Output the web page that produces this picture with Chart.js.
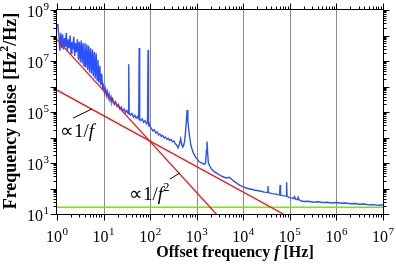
<!DOCTYPE html>
<html>
<head>
<meta charset="utf-8">
<script src="https://cdn.jsdelivr.net/npm/chart.js@4.4.1/dist/chart.umd.min.js"></script>
<style>
  html, body { margin: 0; padding: 0; background: #fff; }
  #wrap { width: 396px; height: 272px; }
</style>
</head>
<body>
<div id="wrap"><canvas id="noiseChart" width="396" height="272"></canvas></div>
<script>
// Measured frequency noise spectrum: offset frequency [Hz] / noise [Hz^2/Hz]
const noiseFreq = [
  1, 1.05, 1.10, 1.15, 1.20, 1.26, 1.32, 1.38, 1.45, 1.51, 1.58, 1.66, 1.74, 1.82, 1.91, 2.00, 2.09, 2.19, 2.29, 2.40,
  2.51, 2.63, 2.75, 2.88, 3.02, 3.16, 3.31, 3.47, 3.63, 3.80, 3.98, 4.17, 4.37, 4.57, 4.79, 5.01, 5.25, 5.50, 5.75, 6.03,
  6.31, 6.61, 6.92, 7.24, 7.59, 7.94, 8.32, 8.71, 9.12, 9.55, 10,
  10.5, 11, 11.5, 12, 12.6, 13.2, 13.8, 14.5, 15.1, 15.8, 17, 18.2, 19.5, 20.9, 22.4, 24, 25.7, 27.5, 29.5, 31.6,
  33.9, 34.7, 35.5, 38, 40.7, 43.7, 46.8, 50.1, 53.7, 56.9, 58.2, 59.6, 63.1, 67.6, 72.4, 77.6, 83.2, 88.1, 90.2, 92.3, 95.5, 100,
  107, 115, 123, 132, 141, 151, 162, 174, 186, 200, 214, 229, 245, 263, 282, 302, 324, 347, 372, 398,
  427, 452, 479, 501, 525, 550, 575, 603, 624, 646, 676, 708, 741, 776, 832, 891, 955, 1023, 1096, 1175,
  1259, 1349, 1445, 1549, 1622, 1660, 1718, 1778, 1905, 2042, 2188, 2344, 2512, 2692, 2884, 3162, 3467, 3802, 4169, 4571,
  5012, 5370, 5754, 6310, 6918, 7586, 8318, 9120, 10000,
  1.12e4, 1.26e4, 1.41e4, 1.58e4, 1.78e4, 2e4, 2.24e4, 2.51e4, 2.82e4, 3.16e4, 3.31e4, 3.39e4, 3.47e4, 3.8e4, 4.17e4, 4.57e4,
  5.01e4, 5.5e4, 6.03e4, 6.17e4, 6.31e4, 6.92e4, 7.59e4, 8.32e4, 8.51e4, 8.71e4, 9.33e4, 1e5, 1.1e5, 1.2e5, 1.26e5, 1.32e5,
  1.45e5, 1.51e5, 1.58e5, 1.78e5, 2e5, 2.51e5, 3.16e5, 3.98e5, 5.01e5, 6.31e5, 7.94e5, 1e6, 1.26e6, 1.58e6, 2e6, 2.51e6,
  3.16e6, 3.98e6, 5.01e6, 6.31e6, 7.94e6, 1e7
];
const noiseLevel = [
  2.82e8, 2.0e8, 1.0e8, 2.51e7, 1.26e8, 3.16e7, 1.12e8, 2.82e7, 7.94e7, 3.55e7, 1.26e8, 2.51e7, 7.08e7, 3.16e7, 1.0e8, 2.0e7, 5.62e7, 2.82e7, 8.91e7, 1.58e7,
  5.01e7, 2.24e7, 7.08e7, 1.12e7, 5.62e7, 8.91e6, 6.31e7, 7.94e6, 5.01e7, 6.31e6, 5.01e7, 5.62e6, 4.47e7, 4.47e6, 3.98e7, 3.55e6, 3.16e7, 3.16e6, 2.82e7, 2.51e6,
  2.24e7, 2.0e6, 2.0e7, 1.78e6, 1.12e7, 1.41e6, 6.31e6, 1.12e6, 3.16e6, 8.91e5, 1.12e6,
  5.62e5, 7.94e5, 4.47e5, 6.31e5, 3.55e5, 5.01e5, 2.82e5, 3.8e5, 2.4e5, 3.16e5, 2.0e5, 2.51e5, 1.66e5, 2.0e5, 1.32e5, 1.58e5, 1.12e5, 1.32e5, 9.55e4, 1.15e5,
  8.51e4, 7.41e6, 9.33e4, 7.59e4, 8.71e4, 6.31e4, 7.41e4, 5.62e4, 6.61e4, 5.5e4, 3.24e7, 5.25e4, 4.57e4, 5.37e4, 3.98e4, 4.57e4, 3.47e4, 3.98e4, 2.69e7, 3.16e4, 3.55e4, 2.63e4,
  2.24e4, 1.82e4, 2.0e4, 1.51e4, 1.66e4, 1.26e4, 1.38e4, 1.1e4, 1.2e4, 9.55e3, 1.05e4, 8.51e3, 9.33e3, 7.59e3, 8.32e3, 6.92e3, 7.24e3, 5.75e3, 5.01e3, 3.98e3,
  5.62e3, 8.91e3, 5.01e3, 4.17e3, 5.01e3, 7.08e3, 1.58e4, 5.01e4, 1.2e5, 4.47e4, 2.0e4, 1.0e4, 5.62e3, 3.98e3, 2.63e3, 2.09e3, 1.66e3, 1.41e3, 1.2e3, 1.1e3,
  1.0e3, 955, 891, 1.0e3, 3.16e3, 6.92e3, 2.51e3, 1.0e3, 759, 603, 525, 468, 427, 398, 363, 331, 302, 282, 263, 263,
  275, 251, 219, 191, 174, 151, 135, 123, 115,
  107, 100, 95.5, 91.2, 85.1, 83.2, 79.4, 75.9, 72.4, 70.8, 69.2, 126, 69.2, 66.1, 63.1, 61.7,
  60.3, 57.5, 56.2, 138, 55.0, 52.5, 51.3, 50.1, 174, 49.0, 45.7, 43.7, 42.7, 39.8, 47.9, 38.0,
  36.3, 45.7, 35.5, 32.4, 30.9, 31.6, 28.8, 30.2, 28.2, 28.8, 26.9, 28.2, 26.3, 26.9, 25.1, 25.7,
  24.0, 24.5, 22.9, 23.4, 21.9, 22.4
];

// Guide lines (end points) and measurement floor
const flickerFreq = [1, 1e5];
const flickerLevel = [7.2e5, 7.2];
const randomWalkFreq = [1, 3000];
const randomWalkLevel = [6.9e7, 7.7];
const floorFreq = [1, 1e7];
const floorLevel = [18.5, 18.5];

// Tick labels (decade exponents)
const xTickExp = ['0', '1', '2', '3', '4', '5', '6', '7'];
const yTickExp = ['1', '3', '5', '7', '9'];
const gridFreq = [10, 100, 1000, 1e4, 1e5, 1e6];

// annotation placement in data space
const notes = {
  flicker: { f: 1.16, v: 1.05e4, from: [2.2, 5.75e4], to: [5.64, 1.32e5], sup: '' },
  randomWalk: { f: 35, v: 35.5, from: [266, 234], to: [436, 407], sup: '2' }
};

const serif = "'Liberation Serif', 'Times New Roman', serif";
const pairs = (xs, ys) => xs.map((x, i) => ({ x: x, y: ys[i] }));

function powLabel(ctx, exp, x, y, align) {
  ctx.font = '16px ' + serif;
  const wb = ctx.measureText('10').width;
  ctx.font = '11px ' + serif;
  const ws = ctx.measureText(exp).width;
  const total = wb + ws + 0.5;
  const x0 = align === 'center' ? x - total / 2 : x - total;
  ctx.font = '16px ' + serif;
  ctx.fillText('10', x0, y);
  ctx.font = '11px ' + serif;
  ctx.fillText(exp, x0 + wb + 0.5, y - 7);
}

// draws a run of text pieces [text, font, rise] starting at x
function textRun(ctx, parts, x, y, center) {
  let w = 0;
  parts.forEach(p => { ctx.font = p[1]; w += ctx.measureText(p[0]).width; });
  let cx = center ? x - w / 2 : x;
  parts.forEach(p => {
    ctx.font = p[1];
    ctx.fillText(p[0], cx, y - (p[2] || 0));
    cx += ctx.measureText(p[0]).width;
  });
}

const frame = {
  id: 'frame',
  beforeDatasetsDraw(chart) {
    const { ctx, chartArea: a, scales: { x } } = chart;
    ctx.save();
    ctx.strokeStyle = '#8c8c8c';
    ctx.lineWidth = 1;
    gridFreq.forEach(f => {
      const px = Math.round(x.getPixelForValue(f)) + 0.5;
      ctx.beginPath(); ctx.moveTo(px, a.top); ctx.lineTo(px, a.bottom); ctx.stroke();
    });
    ctx.restore();
  },
  afterDatasetsDraw(chart) {
    const { ctx, chartArea: a, scales: { x, y } } = chart;
    ctx.save();
    ctx.strokeStyle = '#000';
    ctx.fillStyle = '#000';
    ctx.lineWidth = 1;
    const L = a.left - 0.5, R = a.right + 0.5, T = a.top - 0.5, B = a.bottom + 0.5;
    ctx.strokeRect(L, T, R - L, B - T);

    // log ticks, outward on all four sides
    ctx.beginPath();
    for (let e = 0; e <= 7; e++) {
      for (let k = 1; k <= (e < 7 ? 9 : 1); k++) {
        const px = Math.round(x.getPixelForValue(k * 10 ** e)) + 0.5;
        const len = k === 1 ? 6 : 3;
        ctx.moveTo(px, B); ctx.lineTo(px, B + len);
        ctx.moveTo(px, T); ctx.lineTo(px, T - len);
      }
    }
    for (let e = 1; e <= 9; e++) {
      for (let k = 1; k <= (e < 9 ? 9 : 1); k++) {
        const py = Math.round(y.getPixelForValue(k * 10 ** e)) + 0.5;
        const len = k === 1 ? 6 : 3;
        ctx.moveTo(L, py); ctx.lineTo(L - len, py);
        ctx.moveTo(R, py); ctx.lineTo(R + len, py);
      }
    }
    ctx.stroke();

    ctx.textAlign = 'left';
    ctx.textBaseline = 'alphabetic';
    xTickExp.forEach(s => powLabel(ctx, s, x.getPixelForValue(10 ** Number(s)), a.bottom + 28, 'center'));
    yTickExp.forEach(s => powLabel(ctx, s, a.left - 8, y.getPixelForValue(10 ** Number(s)) + 7, 'right'));

    // axis titles
    const bold = 'bold 16px ' + serif;
    textRun(ctx, [['Offset frequency ', bold], ['f', 'italic bold 16px ' + serif], [' [Hz]', bold]], 235, a.bottom + 43, true);
    ctx.save();
    ctx.translate(16, 111);
    ctx.rotate(-Math.PI / 2);
    const boldY = 'bold 18px ' + serif;
    textRun(ctx, [['Frequency noise [Hz', boldY], ['2', 'bold 12px ' + serif, 8], ['/Hz]', boldY]], 0, 0, true);
    ctx.restore();

    // slope annotations with leader lines
    Object.values(notes).forEach(n => {
      ctx.beginPath();
      ctx.moveTo(x.getPixelForValue(n.from[0]), y.getPixelForValue(n.from[1]));
      ctx.lineTo(x.getPixelForValue(n.to[0]), y.getPixelForValue(n.to[1]));
      ctx.stroke();
      const parts = [['\u221D1/', '19px ' + serif], ['f', 'italic 19px ' + serif]];
      if (n.sup) parts.push([n.sup, '13px ' + serif, 9]);
      textRun(ctx, parts, x.getPixelForValue(n.f), y.getPixelForValue(n.v), false);
    });
    ctx.restore();
  }
};

new Chart(document.getElementById('noiseChart'), {
  type: 'scatter',
  data: {
    datasets: [
      { label: '1/f', data: pairs(flickerFreq, flickerLevel), showLine: true, borderColor: '#f01414', borderWidth: 1.3, pointRadius: 0, order: 1 },
      { label: '1/f^2', data: pairs(randomWalkFreq, randomWalkLevel), showLine: true, borderColor: '#f01414', borderWidth: 1.3, pointRadius: 0, order: 1 },
      { label: 'floor', data: pairs(floorFreq, floorLevel), showLine: true, borderColor: '#7fe020', borderWidth: 1.5, pointRadius: 0, order: 2 },
      { label: 'noise', data: pairs(noiseFreq, noiseLevel), showLine: true, borderColor: '#2b50ff', borderWidth: 1.4, pointRadius: 0, order: 3 }
    ]
  },
  options: {
    responsive: false,
    animation: false,
    devicePixelRatio: 1,
    layout: { padding: { left: 57, right: 13, top: 10, bottom: 58 } },
    plugins: { legend: { display: false }, tooltip: { enabled: false } },
    scales: {
      x: { type: 'logarithmic', min: 1, max: 1e7, display: false },
      y: { type: 'logarithmic', min: 10, max: 1e9, display: false }
    }
  },
  plugins: [frame]
});
</script>
</body>
</html>
